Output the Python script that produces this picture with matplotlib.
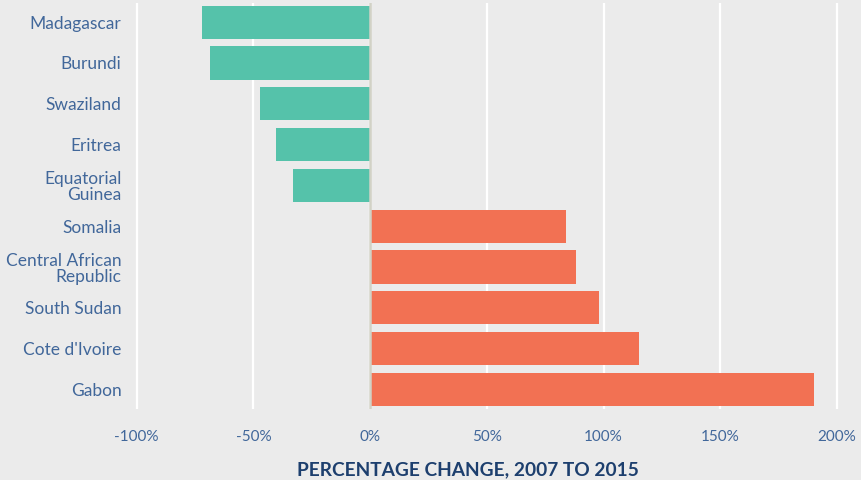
import numpy as np
import matplotlib.pyplot as plt

# data
countries = ['Madagascar', 'Burundi', 'Swaziland', 'Eritrea', 'Equatorial\nGuinea',
             'Somalia', 'Central African\nRepublic', 'South Sudan', "Cote d'Ivoire", 'Gabon']
pct_change = [-72, -68.5, -47, -40.5, -33, 84, 88, 98, 115, 190]
xticks = [-100, -50, 0, 50, 100, 150, 200]
xtick_labels = ['-100%', '-50%', '0%', '50%', '100%', '150%', '200%']

bg = '#ebebeb'
teal = '#55c2aa'
orange = '#f27153'
label_col = '#41679a'
title_col = '#1d3f6e'

plt.rcParams['font.family'] = ['Lato', 'DejaVu Sans']

fig = plt.figure(figsize=(8.61, 4.80), dpi=100, facecolor=bg)
W, H = 861, 480
ax = fig.add_axes([132 / W, 1 - 409 / H, (844 - 132) / W, (409 - 3) / H])
ax.set_facecolor(bg)

y = np.arange(len(countries))
colors = [teal if v < 0 else orange for v in pct_change]
ax.barh(y, pct_change, height=0.81, color=colors, zorder=2)
ax.axvline(0, color='#d2d2c6', lw=1.8, zorder=3)

ax.set_xlim(-102, 203)
ax.set_ylim(len(countries) - 0.52, -0.47)
ax.set_xticks(xticks)
ax.set_xticklabels(xtick_labels, fontsize=11)
ax.set_yticks(y)
ax.set_yticklabels(countries, linespacing=1.0, fontsize=12.5)
ax.grid(axis='x', color='white', lw=1.6, zorder=1)
ax.tick_params(length=0, labelcolor=label_col)
ax.tick_params(axis='x', pad=15)
ax.tick_params(axis='y', pad=7.5)
for s in ax.spines.values():
    s.set_visible(False)

fig.text(468 / W, 1 - 470 / H, 'PERCENTAGE CHANGE, 2007 TO 2015', ha='center', va='center',
         fontsize=13.8, fontweight='bold', color=title_col)

fig.savefig('out.png', dpi=100, facecolor=bg)
